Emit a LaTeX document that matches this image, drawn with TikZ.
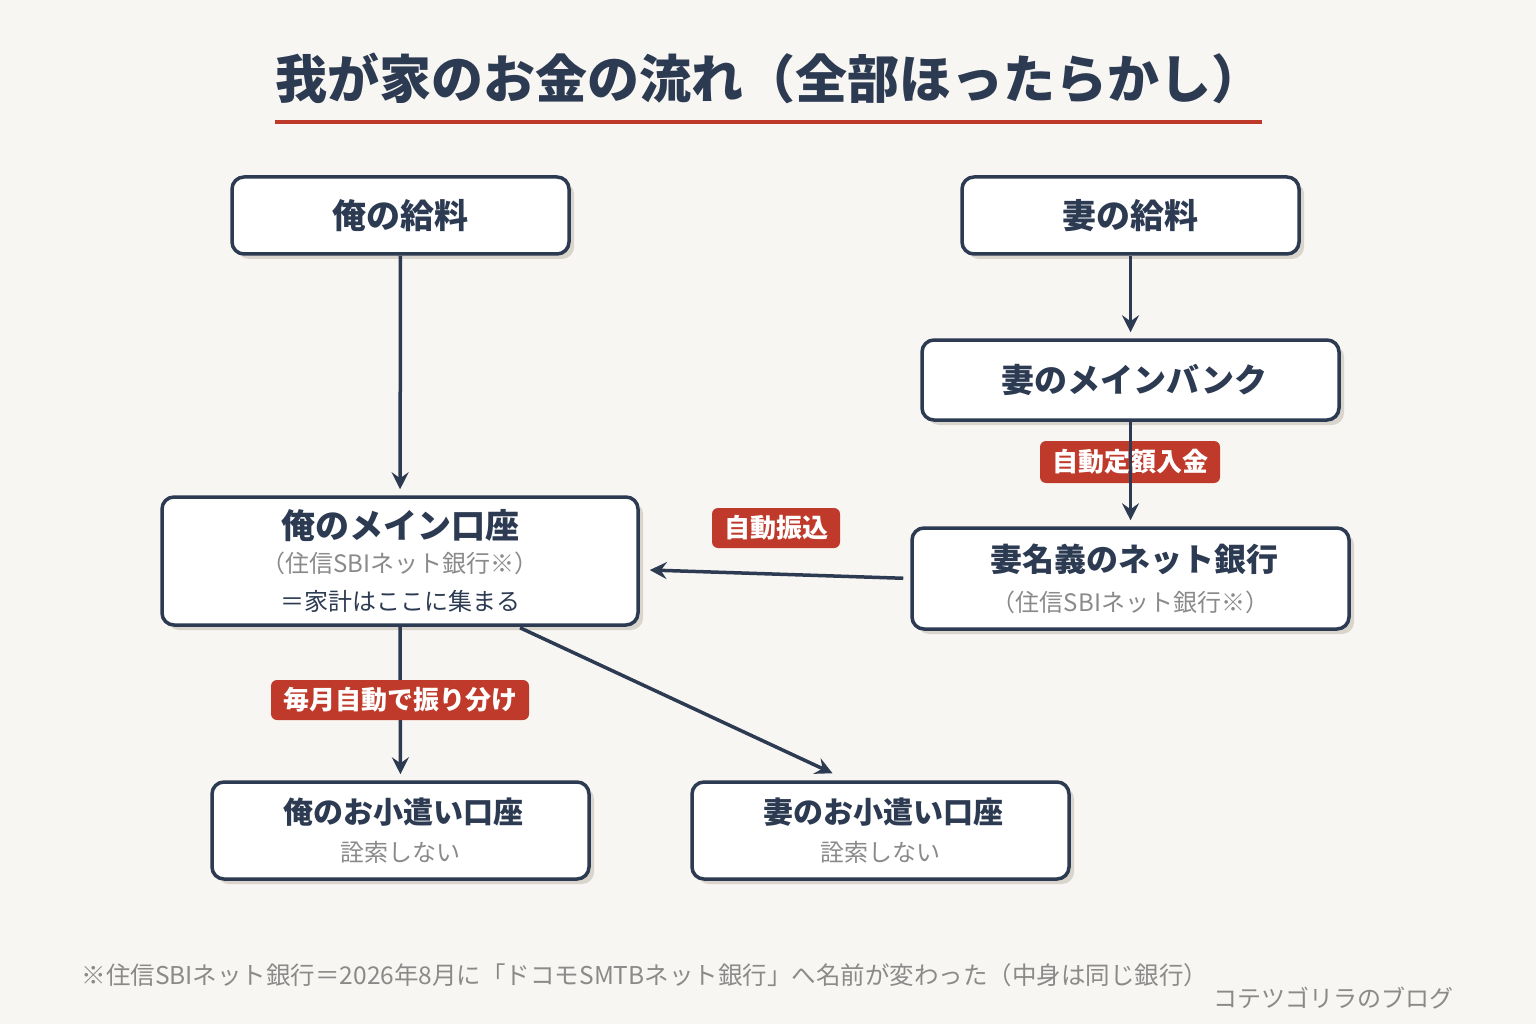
\documentclass[tikz,border=0pt]{standalone}
\usepackage{fontspec}
\setmainfont{Noto Sans CJK JP}
\usetikzlibrary{arrows.meta,shadows,calc}

\definecolor{navy}{HTML}{2C3A52}
\definecolor{tagred}{HTML}{BF3A2B}
\definecolor{paper}{HTML}{F8F6F2}
\definecolor{subgray}{HTML}{8A8A8A}
\definecolor{shadowgray}{HTML}{D9D5CC}

\newcommand{\boxtitle}[1][34]{\bfseries\fontsize{#1}{34}\selectfont}
\newcommand{\boxsub}{\mdseries\fontsize{24}{34}\selectfont}

\begin{document}
\begin{tikzpicture}[x=1pt,y=-1pt,
	box/.style={draw=navy,line width=3.5pt,fill=white,rounded corners=12pt,
		align=center,text=navy,inner sep=0pt,font=\fontsize{24}{#1}\selectfont,
		drop shadow={shadow xshift=5pt,shadow yshift=-5pt,fill=shadowgray,opacity=1}},
	box/.default=38,
	tag/.style={fill=tagred,rounded corners=6pt,text=white,inner sep=0pt,
		font=\bfseries\fontsize{26}{30}\selectfont},
	flow/.style={draw=navy,line width=3.5pt,
		-{Stealth[length=17pt,width=17pt,inset=6pt]}}
]

	\fill[paper] (0,0) rectangle (1536,1024);
	\useasboundingbox (0,0) rectangle (1536,1024);

	% title
	\node[text=navy,font=\bfseries\fontsize{52}{60}\selectfont] (title) at (769,78)
		{我が家のお金の流れ（全部ほったらかし）};
	\draw[tagred,line width=4pt] (275,122) -- (1262,122);

	% boxes
	\node[box,minimum width=337pt,minimum height=77pt] (oreKyuryo) at (400.5,215.5)
		{\boxtitle 俺の給料};
	\node[box,minimum width=337pt,minimum height=77pt] (tsumaKyuryo) at (1130.5,215.5)
		{\boxtitle 妻の給料};
	\node[box,minimum width=417pt,minimum height=80pt] (tsumaMain) at (1130.5,380)
		{\boxtitle[33] 妻のメインバンク};
	\node[box,minimum width=476pt,minimum height=128pt] (oreMain) at (400,561)
		{\boxtitle 俺のメイン口座\\[-4pt] \boxsub\color{subgray}（住信SBIネット銀行※）\\ \boxsub ＝家計はここに集まる};
	\node[box=40,minimum width=437pt,minimum height=101pt] (tsumaNet) at (1130.5,578.5)
		{\boxtitle[32] 妻名義のネット銀行\\ \boxsub\color{subgray}（住信SBIネット銀行※）};
	\node[box=38,minimum width=377pt,minimum height=97pt] (oreKozukai) at (400.5,830.5)
		{\boxtitle[30] 俺のお小遣い口座\\ \boxsub\color{subgray}詮索しない};
	\node[box=38,minimum width=377pt,minimum height=97pt] (tsumaKozukai) at (880.5,830.5)
		{\boxtitle[30] 妻のお小遣い口座\\ \boxsub\color{subgray}詮索しない};

	% labels on the arrows
	\node[tag,minimum width=180pt,minimum height=42pt] (teigaku) at (1130,462) {自動定額入金};
	\node[tag,minimum width=128pt,minimum height=40pt] (furikomi) at (776,528) {自動振込};

	% arrows
	\draw[flow,shorten >=6pt] (oreKyuryo) -- (oreMain);
	\draw[flow,shorten >=6pt] (tsumaKyuryo) -- (tsumaMain);
	\draw[flow,shorten >=6pt] (tsumaMain) -- (tsumaNet);
	\coordinate (inMain) at ([xshift=10pt,yshift=-9pt]oreMain.east);
	\draw[flow,shorten <=7pt] (tsumaNet.west) -- (inMain);
	\draw[flow,shorten >=6pt] (oreMain) -- (oreKozukai);
	\coordinate (outMain) at ([xshift=120pt,yshift=-1pt]oreMain.south);
	\coordinate (inKozukai) at ([xshift=-48pt,yshift=7pt]tsumaKozukai.north);
	\draw[flow] (outMain) -- (inKozukai);

	\node[tag,minimum width=258pt,minimum height=40pt] (furiwake) at (400,700) {毎月自動で振り分け};

	% footnote
	\node[anchor=west,text=subgray,font=\fontsize{24.5}{28}\selectfont] (note) at (78,975)
		{※住信SBIネット銀行＝2026年8月に「ドコモSMTBネット銀行」へ名前が変わった（中身は同じ銀行）};
	\node[anchor=east,text=subgray,font=\fontsize{24}{28}\selectfont] (credit) at (1457,998)
		{コテツゴリラのブログ};

\end{tikzpicture}
\end{document}
